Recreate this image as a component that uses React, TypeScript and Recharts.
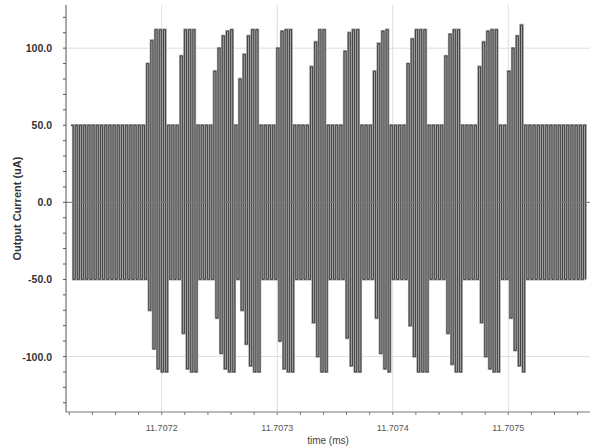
import { ComposedChart, Line, XAxis, YAxis, ReferenceLine, CartesianGrid } from "recharts";

// axis ticks (minor ones carry no label)
const X_TICKS = [
  11.70712, 11.70714, 11.70716, 11.70718, 11.7072, 11.70722, 11.70724, 11.70726,
  11.70728, 11.7073, 11.70732, 11.70734, 11.70736, 11.70738, 11.7074, 11.70742,
  11.70744, 11.70746, 11.70748, 11.7075, 11.70752, 11.70754, 11.70756,
];
const X_MAJOR = [11.7072, 11.7073, 11.7074, 11.7075];
const Y_TICKS = [
  -130, -120, -110, -100, -90, -80, -70, -60, -50, -40, -30, -20, -10, 0, 10, 20,
  30, 40, 50, 60, 70, 80, 90, 100, 110, 120,
];
const Y_MAJOR = [-100, -50, 0, 50, 100];
const Y_GRID = [-100, 0, 100];

// carrier: one full swing per cycle, ±50 uA outside the bursts
const TRACE_START = 11.7071215;
const CYCLE = 0.000003636;
const CYCLE_COUNT = 123;
const BASE_HIGH = 50;
const BASE_LOW = -50;

// bursts: start time and peak of each cycle inside the burst
const BURST_START = [
  11.7071881, 11.7072176, 11.7072461, 11.7072687, 11.707299, 11.7073284,
  11.7073561, 11.7073847, 11.7074132, 11.7074435, 11.707473, 11.7074998,
];
const BURST_HIGH = [
  [90, 105, 112, 112, 112],
  [95, 112, 112, 112],
  [85, 100, 108, 111, 112],
  [80, 96, 108, 112, 112],
  [100, 111, 112, 112],
  [88, 104, 112, 112],
  [98, 110, 112, 112],
  [85, 103, 111, 112],
  [90, 106, 112, 112, 112],
  [95, 109, 112, 112],
  [88, 104, 111, 112, 112],
  [85, 100, 108, 115],
];
const BURST_LOW = [
  [-70, -95, -108, -110, -110],
  [-85, -108, -110, -110],
  [-75, -98, -108, -110, -110],
  [-70, -92, -106, -110, -110],
  [-90, -108, -110, -110],
  [-78, -100, -110, -110],
  [-88, -106, -110, -110],
  [-75, -98, -108, -110],
  [-80, -100, -110, -110, -110],
  [-85, -105, -110, -110],
  [-78, -100, -108, -110, -110],
  [-75, -96, -106, -110],
];

type Sample = { t: number; v: number };

const trace: Sample[] = [];
for (let i = 0; i < CYCLE_COUNT; i++) {
  const t = TRACE_START + i * CYCLE;
  let hi = BASE_HIGH;
  let lo = BASE_LOW;
  BURST_START.forEach((s, k) => {
    const j = Math.floor((t - s) / CYCLE + 0.5);
    if (j >= 0 && j < BURST_HIGH[k].length) {
      hi = BURST_HIGH[k][j];
      lo = BURST_LOW[k][j];
    }
  });
  trace.push({ t, v: hi });
  trace.push({ t: t + CYCLE / 2, v: lo });
}

const FONT = "Liberation Sans, Arial, sans-serif";

const XTick = ({ x, y, payload }: any) => {
  const v = payload.value as number;
  if (!X_MAJOR.some((m) => Math.abs(m - v) < 1e-9)) return <g />;
  return (
    <text x={x} y={y} dy={8} textAnchor="middle" fontSize={9} fill="#555" fontFamily={FONT}>
      {v.toFixed(4)}
    </text>
  );
};

const YTick = ({ x, y, payload }: any) => {
  const v = payload.value as number;
  if (!Y_MAJOR.includes(v)) return <g />;
  return (
    <text x={x} y={y} dy={4} textAnchor="end" fontSize={10.5} fontWeight="bold" fill="#333" fontFamily={FONT}>
      {v.toFixed(1)}
    </text>
  );
};

export default function App() {
  return (
    <div style={{ position: "absolute", left: 0, top: 0, background: "#fff" }}>
      <ComposedChart
        width={591}
        height={448}
        data={trace}
        margin={{ top: 5, right: 1, left: 0, bottom: 0 }}
      >
        <CartesianGrid
          stroke="#dedede"
          strokeDasharray=""
          horizontalValues={Y_GRID}
          verticalValues={X_MAJOR}
        />
        <XAxis
          dataKey="t"
          type="number"
          domain={[11.70711714, 11.70757074]}
          allowDataOverflow
          ticks={X_TICKS}
          tick={<XTick />}
          tickSize={3}
          tickMargin={8}
          height={36}
          stroke="#777"
          interval={0}
          label={{
            value: "time (ms)",
            position: "insideBottom",
            offset: 4,
            fontSize: 10,
            fill: "#444",
            fontFamily: FONT,
          }}
        />
        <YAxis
          type="number"
          domain={[-136, 128]}
          allowDataOverflow
          ticks={Y_TICKS}
          tick={<YTick />}
          tickSize={3}
          tickMargin={11}
          width={66}
          stroke="#555"
          interval={0}
          label={{
            value: "Output Current (uA)",
            angle: -90,
            position: "insideLeft",
            offset: 17,
            fontSize: 11,
            fontWeight: "bold",
            fill: "#333",
            fontFamily: FONT,
            style: { textAnchor: "middle" },
          }}
        />
        <Line
          dataKey="v"
          type="stepAfter"
          stroke="#a2a2a2"
          strokeWidth={2.4}
          dot={false}
          isAnimationActive={false}
        />
        <Line
          dataKey="v"
          type="stepAfter"
          stroke="#383838"
          strokeWidth={0.9}
          dot={false}
          isAnimationActive={false}
        />
        <ReferenceLine y={0} stroke="#7a7a7a" />
      </ComposedChart>
    </div>
  );
}
